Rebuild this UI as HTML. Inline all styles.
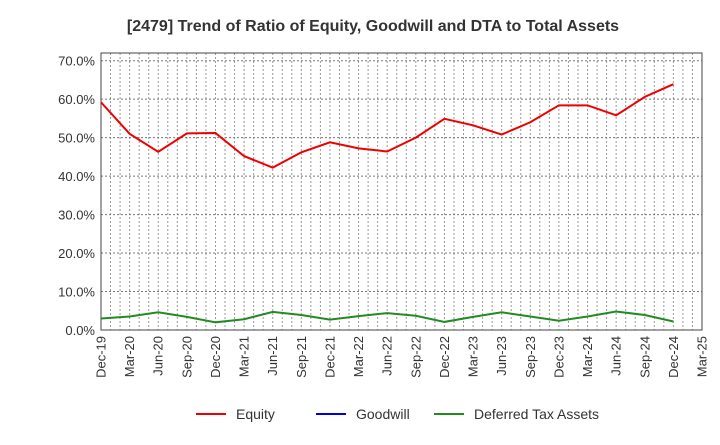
<!DOCTYPE html>
<html><head><meta charset="utf-8"><style>
body{margin:0;background:#fff;font-family:"Liberation Sans",sans-serif}
</style></head><body>
<svg width="720" height="440" xmlns="http://www.w3.org/2000/svg">
<text x="373" y="31" text-anchor="middle" font-size="16" font-weight="bold" fill="#333">[2479]  Trend of Ratio of Equity, Goodwill and DTA to Total Assets</text>
<g id="grid"></g><g id="axes"></g><g id="series"></g><g id="legend"></g>
</svg>
<script>
const categories=["Dec-19","Mar-20","Jun-20","Sep-20","Dec-20","Mar-21","Jun-21","Sep-21","Dec-21","Mar-22","Jun-22","Sep-22","Dec-22","Mar-23","Jun-23","Sep-23","Dec-23","Mar-24","Jun-24","Sep-24","Dec-24","Mar-25"];
const equity=[59.2,51,46.3,51.1,51.2,45.2,42.2,46.2,48.8,47.2,46.4,50,54.9,53.2,50.8,54,58.4,58.4,55.8,60.6,63.9];
const goodwill=[null,null,null,null,null,null,null,null,null,null,null,null,null,null,null,null,null,null,null,null,null];
const dta=[3.0,3.5,4.6,3.4,2.0,2.8,4.7,3.9,2.7,3.6,4.4,3.7,2.1,3.4,4.6,3.5,2.4,3.5,4.8,3.9,2.2];
const yTicks=[0,10,20,30,40,50,60,70];
const yMax=72;
const L=101,R=702,T=53,B=330;
const NS="http://www.w3.org/2000/svg";
const xs=i=>L+(R-L)*i/(categories.length-1);
const ys=v=>B-(B-T)*v/yMax;
function mk(tag,attrs,parent){const e=document.createElementNS(NS,tag);for(const k in attrs)e.setAttribute(k,attrs[k]);parent.appendChild(e);return e;}
const grid=document.getElementById('grid'),axes=document.getElementById('axes'),series=document.getElementById('series'),legend=document.getElementById('legend');
for(let m=1;m<(categories.length-1)*3;m++){const x=L+(R-L)*m/((categories.length-1)*3);
const g=mk('line',{x1:x,x2:x,y1:T,y2:B,stroke:'#999','stroke-dasharray':'2,2','stroke-width':1},grid);

}
yTicks.forEach(t=>{const y=ys(t);
if(t>0){const g=mk('line',{x1:L,x2:R,y1:y,y2:y,stroke:'#777','stroke-dasharray':'2,2','stroke-width':1},grid);

}
const tx=mk('text',{x:L-6,y:y+5,'text-anchor':'end','font-size':13,fill:'#333'},axes);tx.textContent=t.toFixed(1)+'%';

});
const fr=mk('rect',{x:L,y:T,width:R-L,height:B-T,fill:'none',stroke:'#444','stroke-width':1},axes);


categories.forEach((c,i)=>{const x=xs(i);
const tx=mk('text',{transform:`translate(${x+4.5},${B+6}) rotate(-90)`,'text-anchor':'end','font-size':13,fill:'#333'},axes);tx.textContent=c;

});
function line(arr,color,name){const pts=[];arr.forEach((v,i)=>{if(v!==null&&v!==undefined)pts.push(xs(i)+','+ys(v));});
if(!pts.length)return;
const p=mk('polyline',{points:pts.join(' '),fill:'none',stroke:color,'stroke-width':2},series);

}
line(goodwill,'#0000dd','goodwill-line');
line(dta,'#228b22','dta-line');
line(equity,'#ee0000','equity-line');
[['Equity','#ee0000',196],['Goodwill','#0000dd',316],['Deferred Tax Assets','#228b22',434]].forEach(([t,c,x])=>{
const g=mk('g',{},legend);


mk('line',{x1:x,x2:x+30,y1:414,y2:414,stroke:c,'stroke-width':2},g);
const tx=mk('text',{x:x+40,y:419,'font-size':14,fill:'#333'},g);tx.textContent=t;});
</script>
</body></html>
